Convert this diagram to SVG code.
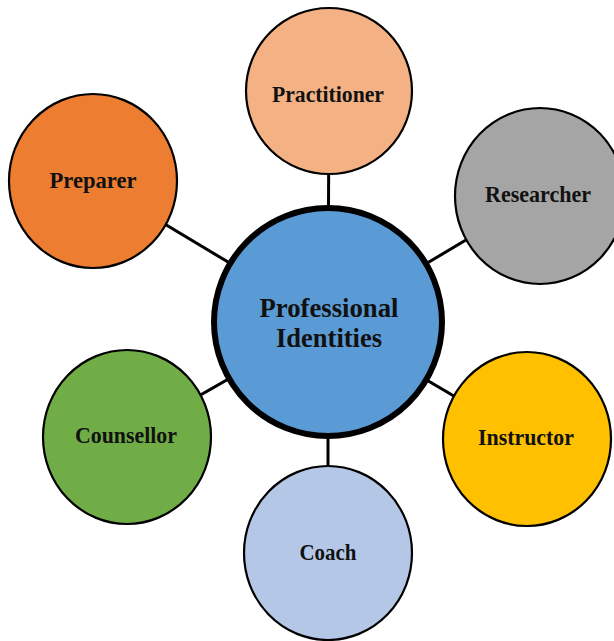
<svg xmlns="http://www.w3.org/2000/svg" width="614" height="641" viewBox="0 0 614 641">
  <style>
    .node { stroke: #000; stroke-width: 2.2; }
    .hub { stroke: #000; stroke-width: 6; }
    .link { stroke: #000; stroke-width: 3; }
    .label { font-family: "Liberation Serif", "Times New Roman", serif; font-weight: bold; fill: #111; text-anchor: middle; }
    .small { font-size: 23px; }
    .big { font-size: 28px; }
  </style>
  <rect width="614" height="641" fill="#fff"/>
  <g id="connectors">
    <line class="link" x1="328" y1="322" x2="329" y2="91"/>
    <line class="link" x1="328" y1="322" x2="93" y2="181"/>
    <line class="link" x1="328" y1="322" x2="540" y2="196"/>
    <line class="link" x1="328" y1="322" x2="527" y2="439"/>
    <line class="link" x1="328" y1="322" x2="127" y2="437"/>
    <line class="link" x1="328" y1="322" x2="328" y2="553"/>
  </g>
  <g id="practitioner">
    <ellipse class="node" cx="329" cy="91" rx="83" ry="83" fill="#F4B183"/>
    <text class="label small" x="328" y="102" textLength="112" lengthAdjust="spacingAndGlyphs">Practitioner</text>
  </g>
  <g id="preparer">
    <ellipse class="node" cx="93" cy="181" rx="84" ry="87" fill="#ED7D31"/>
    <text class="label small" x="93" y="188" textLength="87" lengthAdjust="spacingAndGlyphs">Preparer</text>
  </g>
  <g id="researcher">
    <ellipse class="node" cx="540" cy="196" rx="85" ry="88" fill="#A5A5A5"/>
    <text class="label small" x="538" y="202" textLength="106" lengthAdjust="spacingAndGlyphs">Researcher</text>
  </g>
  <g id="instructor">
    <ellipse class="node" cx="527" cy="439" rx="84" ry="87" fill="#FFC000"/>
    <text class="label small" x="526" y="445" textLength="96" lengthAdjust="spacingAndGlyphs">Instructor</text>
  </g>
  <g id="counsellor">
    <ellipse class="node" cx="127" cy="437" rx="84" ry="87" fill="#70AD47"/>
    <text class="label small" x="126" y="443" textLength="102" lengthAdjust="spacingAndGlyphs">Counsellor</text>
  </g>
  <g id="coach">
    <ellipse class="node" cx="328" cy="553" rx="84" ry="87" fill="#B4C7E7"/>
    <text class="label small" x="328" y="560" textLength="57" lengthAdjust="spacingAndGlyphs">Coach</text>
  </g>
  <g id="professional-identities">
    <circle class="hub" cx="328" cy="322" r="114" fill="#5B9BD5"/>
    <text class="label big" x="329" y="317" textLength="139" lengthAdjust="spacingAndGlyphs">Professional</text>
    <text class="label big" x="329" y="347" textLength="106" lengthAdjust="spacingAndGlyphs">Identities</text>
  </g>
</svg>
